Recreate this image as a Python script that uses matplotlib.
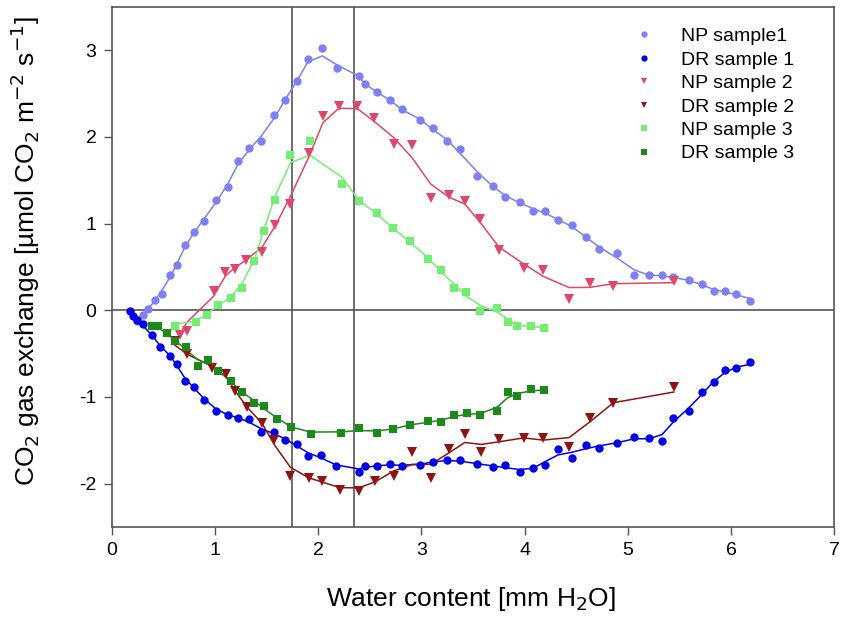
import matplotlib.pyplot as plt
import numpy as np

plt.rcParams['font.family'] = ['Liberation Sans', 'DejaVu Sans']
plt.rcParams['axes.unicode_minus'] = False

# NP sample 1
np1_x = [0.24, 0.30, 0.353, 0.418, 0.483, 0.564, 0.635, 0.709, 0.797, 0.897, 1.01, 1.124,
         1.221, 1.331, 1.445, 1.574, 1.681, 1.795, 1.90, 2.04, 2.18, 2.39, 2.45, 2.57,
         2.695, 2.815, 2.99, 3.11, 3.25, 3.375, 3.54, 3.69, 3.81, 3.95, 4.08, 4.20,
         4.32, 4.46, 4.59, 4.72, 4.89, 5.06, 5.20, 5.33, 5.44, 5.59, 5.72, 5.83,
         5.94, 6.05, 6.18]
np1_y = [-0.12, -0.05, 0.01, 0.115, 0.19, 0.41, 0.52, 0.75, 0.905, 1.03, 1.27, 1.42,
         1.72, 1.87, 1.95, 2.25, 2.42, 2.64, 2.90, 3.02, 2.80, 2.70, 2.61, 2.52,
         2.42, 2.32, 2.19, 2.10, 1.95, 1.865, 1.55, 1.43, 1.31, 1.25, 1.15, 1.14,
         1.04, 0.98, 0.85, 0.71, 0.655, 0.405, 0.405, 0.405, 0.38, 0.35, 0.30, 0.22,
         0.22, 0.19, 0.11]

# DR sample 1
dr1_x = [0.175, 0.207, 0.24, 0.30, 0.386, 0.47, 0.564, 0.635, 0.709, 0.80, 0.897, 1.01,
         1.124, 1.22, 1.33, 1.445, 1.57, 1.68, 1.795, 1.90, 2.03, 2.17, 2.39, 2.45,
         2.57, 2.695, 2.815, 2.99, 3.11, 3.245, 3.375, 3.54, 3.69, 3.81, 3.95, 4.08,
         4.20, 4.32, 4.46, 4.59, 4.72, 4.89, 5.06, 5.20, 5.33, 5.44, 5.59, 5.72,
         5.83, 5.94, 6.05, 6.18]
dr1_y = [-0.01, -0.07, -0.11, -0.16, -0.28, -0.42, -0.53, -0.62, -0.82, -0.88, -1.03, -1.16,
         -1.21, -1.245, -1.26, -1.40, -1.40, -1.495, -1.545, -1.68, -1.67, -1.80, -1.86, -1.80,
         -1.80, -1.77, -1.80, -1.78, -1.745, -1.73, -1.73, -1.77, -1.81, -1.79, -1.87, -1.82,
         -1.78, -1.60, -1.70, -1.55, -1.59, -1.53, -1.465, -1.475, -1.51, -1.245, -1.16, -0.94,
         -0.83, -0.69, -0.67, -0.60]

# NP sample 2
np2_x = [0.66, 0.73, 0.985, 1.10, 1.195, 1.30, 1.455, 1.58, 1.73, 1.91, 2.045, 2.20,
         2.38, 2.54, 2.73, 2.91, 3.09, 3.27, 3.42, 3.57, 3.75, 3.99, 4.18, 4.43,
         4.63, 4.86, 5.445]
np2_y = [-0.28, -0.24, 0.22, 0.44, 0.48, 0.58, 0.675, 0.98, 1.23, 1.81, 2.24, 2.36,
         2.36, 2.22, 1.92, 1.91, 1.29, 1.33, 1.26, 1.05, 0.69, 0.49, 0.47, 0.13,
         0.32, 0.285, 0.335]

# DR sample 2
dr2_x = [0.61, 0.73, 0.97, 1.11, 1.195, 1.31, 1.455, 1.574, 1.73, 1.91, 2.04, 2.21,
         2.39, 2.55, 2.73, 2.91, 3.09, 3.27, 3.42, 3.58, 3.75, 3.99, 4.18, 4.43,
         4.635, 4.86, 5.445]
dr2_y = [-0.35, -0.505, -0.67, -0.74, -0.93, -1.12, -1.30, -1.495, -1.91, -1.93, -1.965, -2.07,
         -2.08, -1.965, -1.91, -1.63, -1.94, -1.60, -1.43, -1.64, -1.48, -1.47, -1.47, -1.58,
         -1.245, -1.07, -0.88]

# NP sample 3
np3_x = [0.61, 0.82, 0.92, 1.03, 1.15, 1.26, 1.38, 1.47, 1.58, 1.73, 1.92, 2.23,
         2.39, 2.565, 2.72, 2.89, 3.06, 3.19, 3.32, 3.43, 3.57, 3.73, 3.84, 3.93,
         4.06, 4.19]
np3_y = [-0.18, -0.13, -0.05, 0.06, 0.14, 0.26, 0.57, 0.91, 1.27, 1.79, 1.955, 1.46,
         1.26, 1.12, 0.945, 0.80, 0.59, 0.46, 0.26, 0.21, -0.01, 0.03, -0.13, -0.185,
         -0.185, -0.205]

# DR sample 3
dr3_x = [0.386, 0.45, 0.53, 0.61, 0.72, 0.83, 0.93, 1.03, 1.15, 1.26, 1.38, 1.47,
         1.60, 1.74, 1.925, 2.225, 2.39, 2.565, 2.72, 2.89, 3.06, 3.19, 3.32, 3.44,
         3.57, 3.73, 3.835, 3.93, 4.06, 4.19]
dr3_y = [-0.185, -0.185, -0.26, -0.35, -0.42, -0.64, -0.57, -0.70, -0.82, -0.94, -1.07, -1.10,
         -1.26, -1.35, -1.43, -1.41, -1.36, -1.42, -1.37, -1.32, -1.28, -1.29, -1.21, -1.19,
         -1.21, -1.16, -0.945, -0.99, -0.91, -0.92]

vlines = [1.75, 2.35]


def smooth(y, w=(1, 2, 1)):
    # weighted running mean, window shrinks at the ends
    y = np.asarray(y, dtype=float)
    w = np.asarray(w, dtype=float)
    h = len(w) // 2
    out = np.empty_like(y)
    for i in range(len(y)):
        lo, hi = max(0, i - h), min(len(y), i + h + 1)
        ww = w[h - (i - lo):h + (hi - i)]
        out[i] = np.sum(y[lo:hi] * ww) / ww.sum()
    return out


series = [
    ('NP sample1', np1_x, np1_y, '#7f7ff2', 'o'),
    ('DR sample 1', dr1_x, dr1_y, '#0000e6', 'o'),
    ('NP sample 2', np2_x, np2_y, '#e0466a', 'v'),
    ('DR sample 2', dr2_x, dr2_y, '#8e1414', 'v'),
    ('NP sample 3', np3_x, np3_y, '#72ee72', 's'),
    ('DR sample 3', dr3_x, dr3_y, '#1b8a1b', 's'),
]

fig = plt.figure(figsize=(8.41, 6.2), dpi=100)
ax = fig.add_axes([0.133, 0.150, 0.859, 0.839])

ax.axhline(0, color='#555555', lw=1.2, zorder=1)
for v in vlines:
    ax.axvline(v, color='#555555', lw=1.2, zorder=1)

for label, x, y, c, m in series:
    ms = 6 if m == 'o' else (6.5 if m == 'v' else 5.5)
    ax.plot(x, smooth(y), color=c, lw=1.1, zorder=2)
    ax.plot(x, y, linestyle='none', marker=m, color=c, markersize=ms,
            markeredgewidth=0, label=label, zorder=3)

ax.set_xlim(0, 7)
ax.set_ylim(-2.5, 3.5)
ax.set_xticks(range(0, 8))
ax.set_yticks([-2, -1, 0, 1, 2, 3])
ax.tick_params(direction='out', length=6, width=1, color='#555555',
               labelsize=14, pad=5)
for s in ax.spines.values():
    s.set_color('#555555')
    s.set_linewidth(1.2)

ax.set_xlabel('Water content [mm H$_2$O]', fontsize=19)
ax.set_ylabel('CO$_2$ gas exchange [µmol CO$_2$ m$^{-2}$ s$^{-1}$]', fontsize=19)
ax.xaxis.set_label_coords(0.497, -0.112)
ax.yaxis.set_label_coords(-0.097, 0.53)

ax.legend(loc='upper left', bbox_to_anchor=(0.71, 0.975), frameon=False,
          fontsize=14, handletextpad=1.3, labelspacing=0.3, markerscale=0.75,
          borderaxespad=0.0, handlelength=1.2)

fig.savefig('out.png', dpi=100, facecolor='white')
